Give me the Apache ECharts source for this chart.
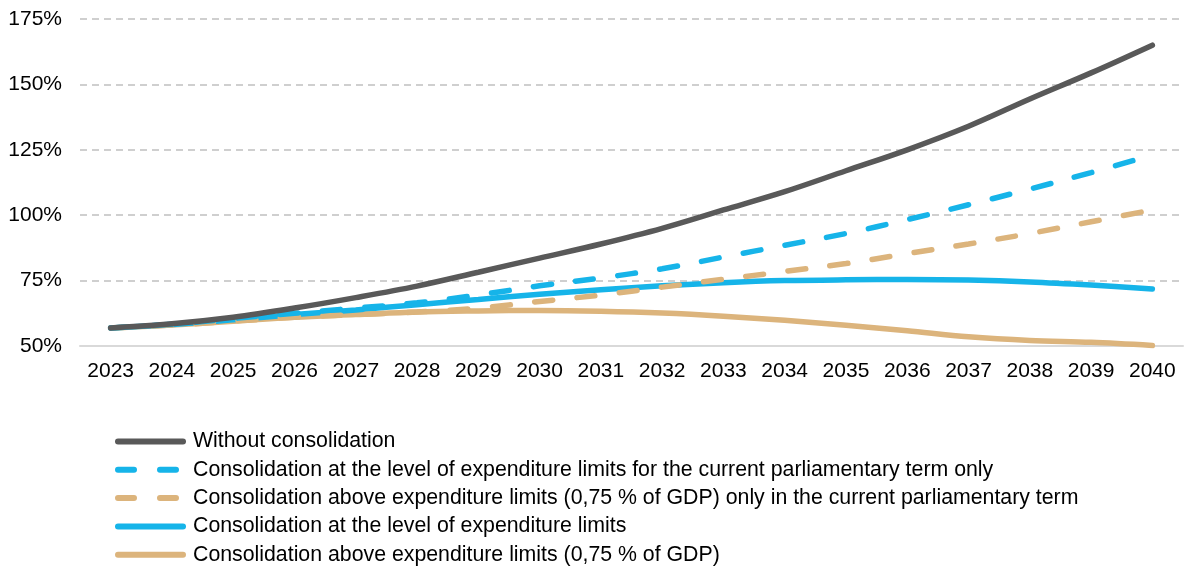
<!DOCTYPE html>
<html>
<head>
<meta charset="utf-8">
<script src="https://cdn.jsdelivr.net/npm/echarts@6/dist/echarts.min.js"></script>
<style>
  html, body { margin: 0; padding: 0; background: #fff; }
  #chart { width: 1186px; height: 568px; }
</style>
</head>
<body>
<div id="chart"></div>
<script>
// Public debt projection, % of GDP
const years = ['2023','2024','2025','2026','2027','2028','2029','2030','2031','2032','2033','2034','2035','2036','2037','2038','2039','2040'];

const withoutConsolidation = [56.9, 58.5, 61, 64.5, 68.5, 72.9, 78.2, 83.6, 89, 95, 102, 109, 117, 125, 134, 144.4, 154.4, 165];
const limitsTermOnly       = [56.9, 58.3, 60.5, 62.5, 64.5, 66.5, 69.5, 73, 76, 79.5, 84, 88.5, 93, 98.3, 104, 110, 116.3, 123];
const aboveLimitsTermOnly  = [56.9, 58, 59.5, 61, 62, 63, 64.5, 67, 69.5, 72.5, 75.5, 78.5, 81.5, 85.3, 89, 93, 97.5, 102];
const limitsFull           = [56.9, 58.2, 60, 62, 63.8, 65.8, 67.8, 69.8, 71.5, 73, 74.2, 75, 75.3, 75.4, 75.2, 74.5, 73.3, 71.8];
const aboveLimitsFull      = [56.9, 58, 59.5, 61, 62, 63, 63.4, 63.6, 63.3, 62.6, 61.4, 59.8, 57.9, 55.8, 53.5, 52.1, 51.4, 50.2];

const yTicks = { min: 50, max: 175, step: 25 };

const GRAY = '#595959';
const BLUE = '#16b4e9';
const TAN = '#dcb47c';

// Legend keys: a rounded bar for solid lines, two rounded dashes for dashed lines
const SOLID_KEY = 'path://M3,0H68A3,3 0 0 1 68,6H3A3,3 0 0 1 3,0Z';
const DASHED_KEY = 'path://M3,0H19A3,3 0 0 1 19,6H3A3,3 0 0 1 3,0Z M45,0H61A3,3 0 0 1 61,6H45A3,3 0 0 1 45,0Z M71,0';

const names = {
  none: 'Without consolidation',
  limitsTerm: 'Consolidation at the level of expenditure limits for the current parliamentary term only',
  aboveTerm: 'Consolidation above expenditure limits (0,75 % of GDP) only in the current parliamentary term',
  limits: 'Consolidation at the level of expenditure limits',
  above: 'Consolidation above expenditure limits (0,75 % of GDP)'
};

function lineSeries(name, data, color, dashed) {
  return {
    name: name,
    type: 'line',
    data: data,
    smooth: 0.35,
    symbol: 'none',
    lineStyle: {
      color: color,
      width: 5.5,
      cap: 'round',
      type: dashed ? [18, 24.5] : 'solid'
    },
    itemStyle: { color: color },
    emphasis: { disabled: true }
  };
}

const chart = echarts.init(document.getElementById('chart'), null, { renderer: 'canvas' });
chart.setOption({
  animation: false,
  textStyle: { fontFamily: 'Liberation Sans, Arial, sans-serif' },
  grid: { left: 80, right: 3, top: 19, bottom: 222, containLabel: false },
  xAxis: {
    type: 'category',
    data: years,
    boundaryGap: true,
    axisLine: { show: true, lineStyle: { color: '#d9d9d9', width: 2 } },
    axisTick: { show: false },
    axisLabel: { color: '#000', fontSize: 21, margin: 15 },
    splitLine: { show: false }
  },
  yAxis: {
    type: 'value',
    min: yTicks.min,
    max: yTicks.max,
    interval: yTicks.step,
    axisLine: { show: false },
    axisTick: { show: false },
    axisLabel: { color: '#000', fontSize: 21, margin: 18, formatter: v => v + '%' },
    splitLine: { show: true, lineStyle: { color: '#c0c0c0', width: 1.5, type: [7, 5] } }
  },
  legend: {
    orient: 'vertical',
    left: 115,
    top: 431,
    height: 137,
    padding: 0,
    itemWidth: 71,
    itemHeight: 6,
    itemGap: 7.3,
    selectedMode: false,
    textStyle: { color: '#000', fontSize: 21.3, lineHeight: 21, padding: [0, 0, 0, 2] },
    data: [
      { name: names.none, icon: SOLID_KEY },
      { name: names.limitsTerm, icon: DASHED_KEY },
      { name: names.aboveTerm, icon: DASHED_KEY },
      { name: names.limits, icon: SOLID_KEY },
      { name: names.above, icon: SOLID_KEY }
    ]
  },
  series: [
    lineSeries(names.above, aboveLimitsFull, TAN, false),
    lineSeries(names.limits, limitsFull, BLUE, false),
    lineSeries(names.aboveTerm, aboveLimitsTermOnly, TAN, true),
    lineSeries(names.limitsTerm, limitsTermOnly, BLUE, true),
    lineSeries(names.none, withoutConsolidation, GRAY, false)
  ]
});
</script>
</body>
</html>
